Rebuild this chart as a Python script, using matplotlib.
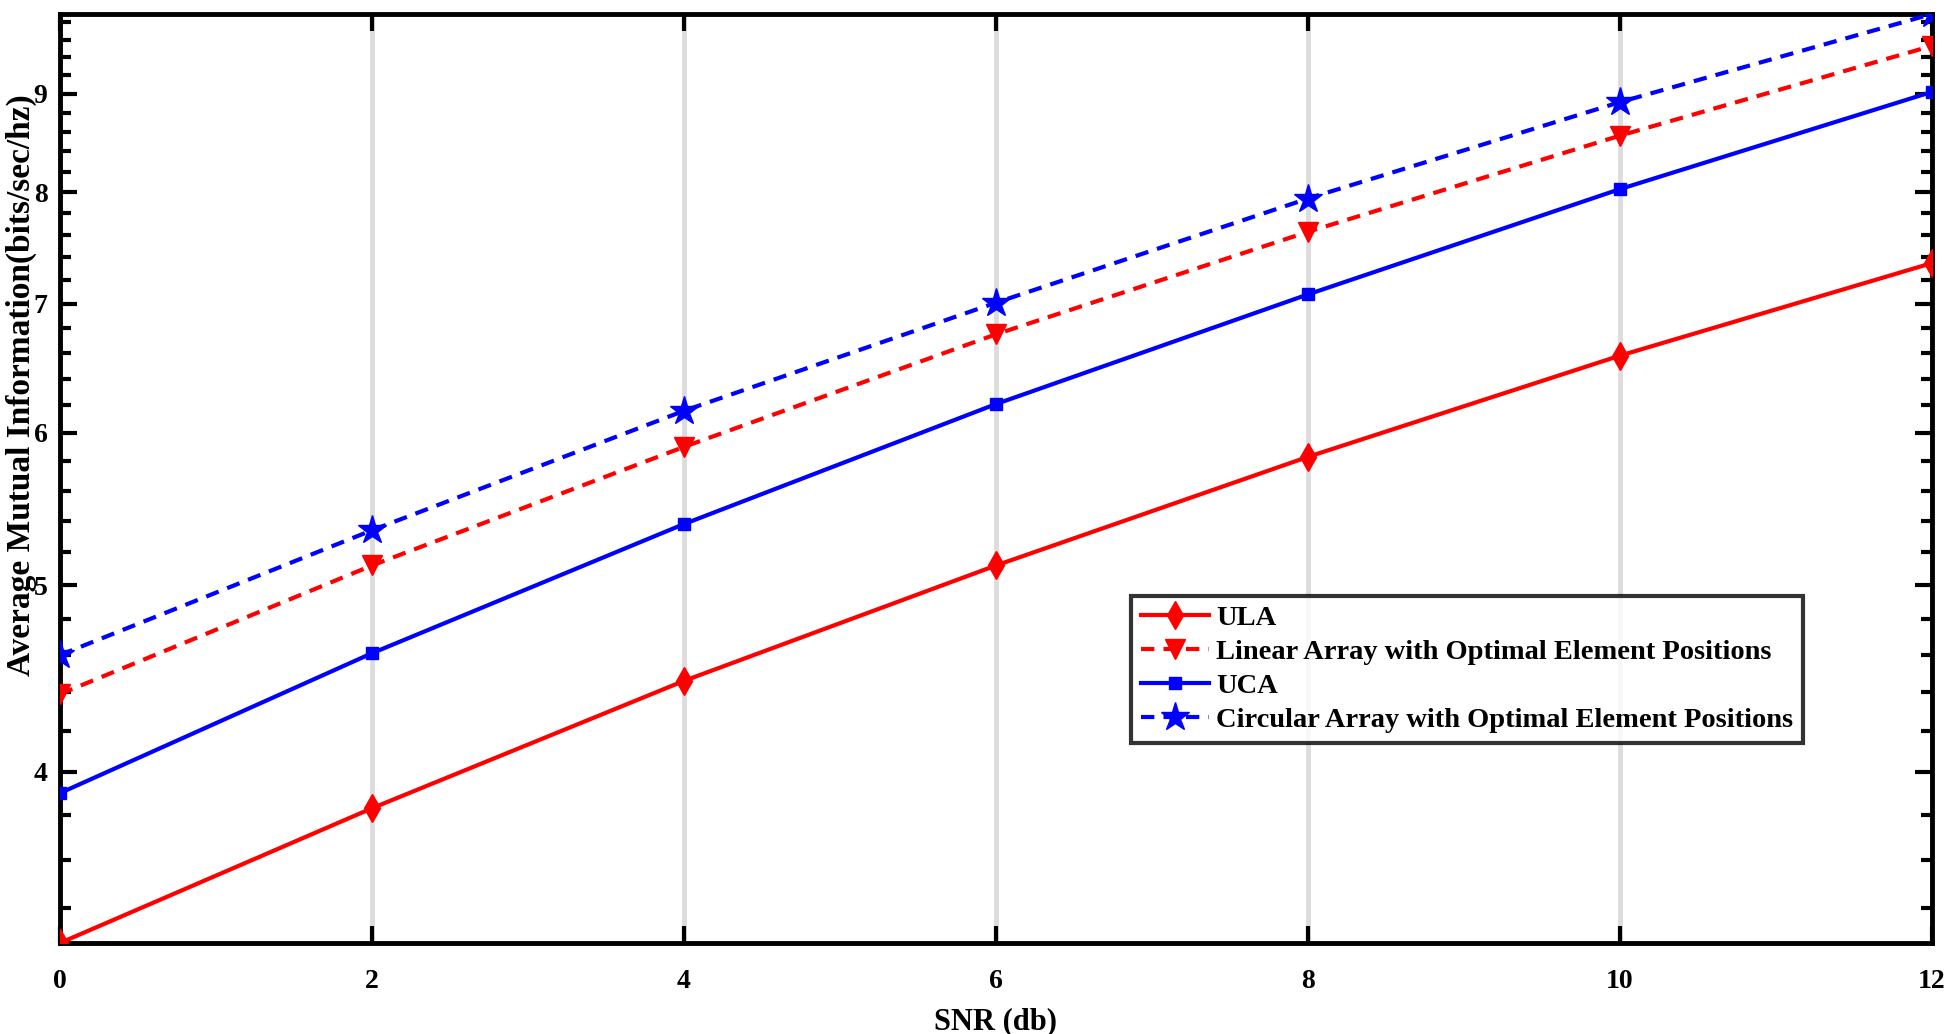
import matplotlib
matplotlib.use("Agg")
import matplotlib.pyplot as plt
from matplotlib.ticker import FixedLocator, MultipleLocator, NullFormatter

plt.rcParams["font.family"] = ["Liberation Serif", "DejaVu Serif"]
plt.rcParams["font.weight"] = "bold"

# 数据
snr = [0, 2, 4, 6, 8, 10, 12]
ula = [3.26, 3.83, 4.46, 5.12, 5.83, 6.58, 7.35]
linear_opt = [4.39, 5.12, 5.90, 6.75, 7.63, 8.56, 9.53]
uca = [3.90, 4.61, 5.38, 6.21, 7.08, 8.03, 9.02]
circular_opt = [4.60, 5.34, 6.16, 7.01, 7.94, 8.91, 9.90]

y_ticks = [4, 5, 6, 7, 8, 9]
x_ticks = [0, 2, 4, 6, 8, 10, 12]

fig = plt.figure(figsize=(19.46, 10.34), dpi=100)
ax = fig.add_axes([60 / 1946, 1 - 943 / 1034, 1872 / 1946, 929 / 1034])

lw = 3.0
dash = (0, (3.2, 2.2))
ax.plot(snr, ula, color="red", linestyle="-", linewidth=lw, marker="d",
        markersize=14, label="ULA", zorder=3)
ax.plot(snr, linear_opt, color="red", linestyle=dash, linewidth=lw,
        marker="v", markersize=15, label="Linear Array with Optimal Element Positions", zorder=3)
ax.plot(snr, uca, color="blue", linestyle="-", linewidth=lw, marker="s",
        markersize=9, label="UCA", zorder=3)
ax.plot(snr, circular_opt, color="blue", linestyle=dash, linewidth=lw,
        marker="*", markersize=21, label="Circular Array with Optimal Element Positions", zorder=3)

ax.set_yscale("log")
ax.set_xlim(0, 12)
ax.set_ylim(min(ula), max(circular_opt))

ax.xaxis.set_major_locator(FixedLocator(x_ticks))
ax.yaxis.set_major_locator(FixedLocator(y_ticks))
ax.yaxis.set_major_formatter(matplotlib.ticker.FixedFormatter([str(t) for t in y_ticks]))
ax.yaxis.set_minor_locator(MultipleLocator(0.2))
ax.yaxis.set_minor_formatter(NullFormatter())

ax.tick_params(axis="both", which="major", direction="in", length=12, width=3,
               labelsize=20, top=True, right=True)
ax.tick_params(axis="x", which="major", pad=19)
ax.tick_params(axis="y", which="major", pad=9)
ax.tick_params(axis="y", which="minor", direction="in", length=8, width=3,
               left=True, right=True)
ax.tick_params(axis="x", which="minor", bottom=False, top=False)

for s in ax.spines.values():
    s.set_linewidth(3.5)

ax.grid(True, axis="x", color="#dcdcdc", linewidth=3.5, zorder=0)
ax.set_axisbelow(True)

ax.set_xlabel("SNR (db)", fontsize=22, fontweight="bold", labelpad=9)
ax.set_ylabel("Average Mutual Information(bits/sec/hz)", fontsize=24,
              fontweight="bold")
ax.yaxis.set_label_coords(-0.0125, 0.60)

leg = ax.legend(loc="upper left", bbox_to_anchor=(0.572, 0.374), fontsize=20.5,
                frameon=True, fancybox=False, edgecolor="black",
                handlelength=2.4, handletextpad=0.25, borderpad=0.35,
                labelspacing=0.28, borderaxespad=0)
leg.get_frame().set_linewidth(3)
for t in leg.get_texts():
    t.set_fontweight("bold")

fig.savefig("out.png", dpi=100)
